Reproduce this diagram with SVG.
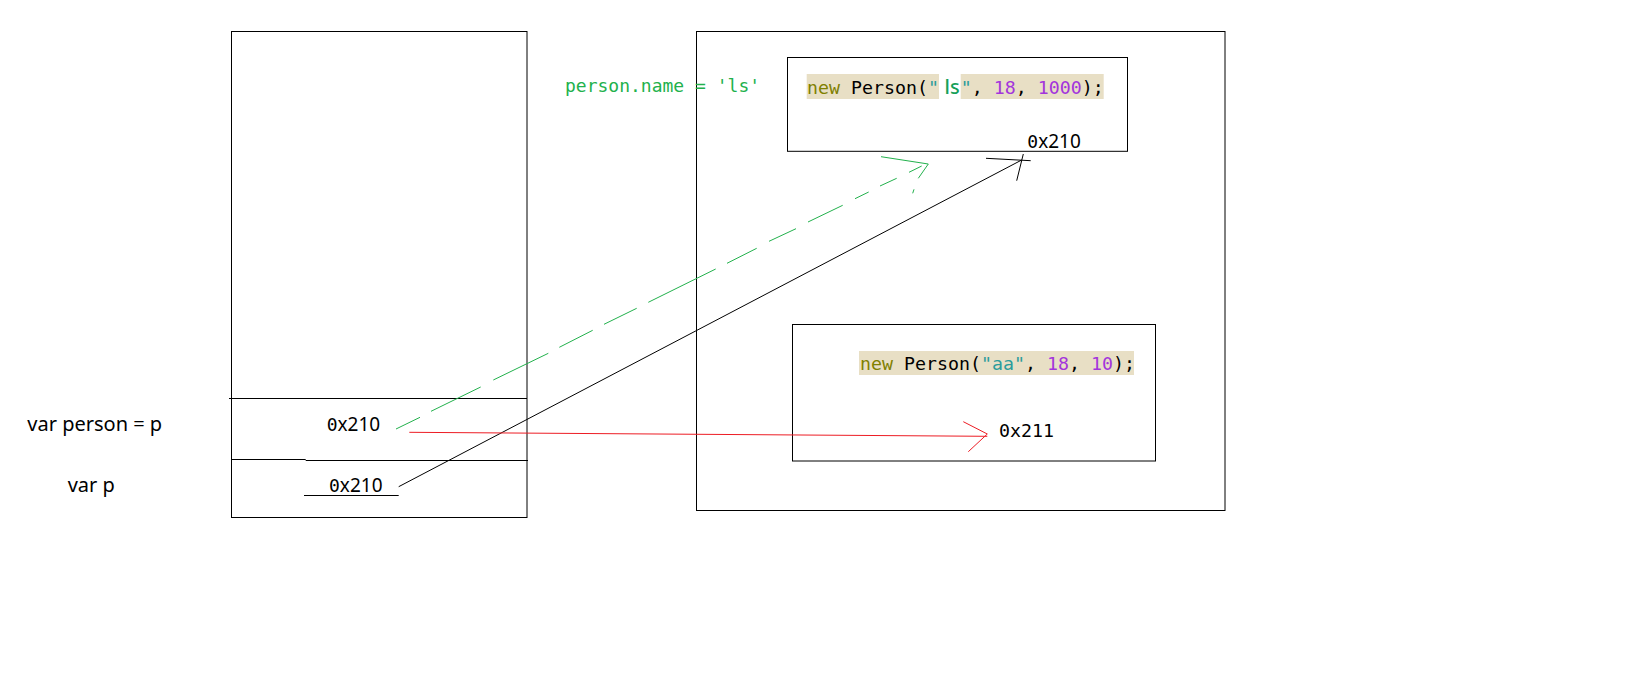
<svg xmlns="http://www.w3.org/2000/svg" width="1630" height="687" viewBox="0 0 1630 687">
<style>
.box{fill:none;stroke:#000;stroke-width:1}
.lbl{font-family:"Noto Sans","Liberation Sans",sans-serif;font-size:20px;fill:#000}
.addr{font-family:"Noto Sans","Liberation Sans",sans-serif;font-size:19px;fill:#000}
.mono{font-family:"DejaVu Sans Mono","Liberation Mono",monospace}
.code{font-family:"DejaVu Sans Mono","Liberation Mono",monospace;font-size:18.27px;fill:#000}
.note{font-family:"DejaVu Sans Mono","Liberation Mono",monospace;font-size:18px;fill:#22b14c}
.kw{fill:#808000}
.str{fill:#2c9c9c}
.num{fill:#a335dc}
.hl{fill:#e8dfc5}
.g{stroke:#22b14c;stroke-width:1;fill:none}
.k{stroke:#000;stroke-width:1;fill:none}
.r{stroke:#ed1c24;stroke-width:1;fill:none}
</style>
<rect width="1630" height="687" fill="#fff"/>

<g id="stack">
<rect class="box" x="231.5" y="31.5" width="295.5" height="486"/>
<path class="k" d="M229 398.5H527M231.5 459.5H305.7M305.7 460.5H528"/>
</g>

<g id="heap">
<rect class="box" x="696.5" y="31.5" width="528.5" height="479"/>
</g>

<g id="label-person">
<text class="lbl" x="27.3" y="431">var person = p</text>
</g>
<g id="label-p">
<text class="lbl" x="67.7" y="491.7">var p</text>
</g>

<g id="slot-person">
<text class="addr" x="326.7" y="430.7"><tspan class="mono" font-size="18">0</tspan>x210</text>
</g>
<g id="slot-p">
<text class="addr" x="329" y="492.3"><tspan class="mono" font-size="18">0</tspan>x210</text>
<path class="k" d="M304 495.5H398.7"/>
</g>

<g id="assign-note">
<text class="note" x="565" y="91.7">person.name = 'ls'</text>
</g>

<g id="obj-210">
<rect class="box" x="787.5" y="57.5" width="340" height="93.8"/>
<rect class="hl" x="806.7" y="74" width="132.3" height="25"/>
<rect class="hl" x="960.7" y="74" width="143" height="25"/>
<text class="code" x="807" y="94.3"><tspan class="kw">new</tspan> Person(<tspan class="str">"</tspan></text>
<text x="944.5" y="94.3" font-family="Noto Sans,Liberation Sans,sans-serif" font-size="20" font-weight="500" fill="#17a05a">ls</text>
<text class="code" x="960.7" y="94.3"><tspan class="str">"</tspan>, <tspan class="num">18</tspan>, <tspan class="num">1000</tspan>);</text>
<text class="addr" x="1027.3" y="147.7"><tspan class="mono" font-size="18">0</tspan>x210</text>
</g>

<g id="obj-211">
<rect class="box" x="792.5" y="324.5" width="363" height="136.5"/>
<rect class="hl" x="859" y="351" width="275" height="24"/>
<text class="code" x="860" y="370"><tspan class="kw">new</tspan> Person(<tspan class="str">"aa"</tspan>, <tspan class="num">18</tspan>, <tspan class="num">10</tspan>);</text>
<text class="code" x="999" y="436.7" font-size="17.5">0x211</text>
</g>

<g id="connectors">
<path class="g" d="M396 429L420 417.3M431 411.3L480.7 387M493.3 380L548.3 353.3M559.3 347.3L592.7 330.3M604 324.3L636.7 308.3M648.3 302.3L715.7 269M727 263.3L756.7 248.3M769 241.3L796 228.7M808 222L842.7 205.3M855 198.7L868.7 192M880 186L896.7 178.3M909 172.3L921.7 166M881 156.7L928.3 164L918.3 178.3M914 189.3L912.7 193.3"/>
<path class="k" d="M398.7 486.7L1021.7 160M986 158.3L1030.7 160.7M1023.3 154L1016.7 180.7"/>
<path class="r" d="M409.3 432.3L987.3 436.3M963.3 421.7L987.3 434L968.3 451.7"/>
</g>
</svg>
